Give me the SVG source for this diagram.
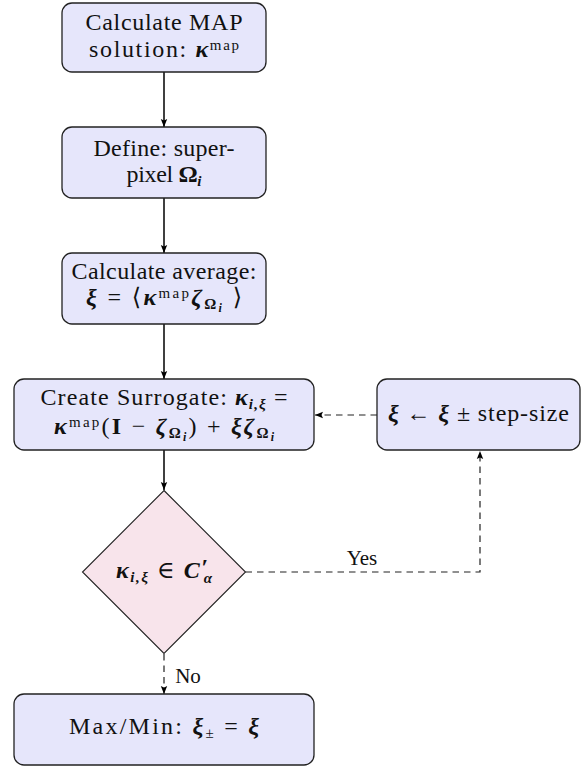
<svg xmlns="http://www.w3.org/2000/svg" width="587" height="767" viewBox="0 0 587 767">
<defs>
<marker id="ah" markerUnits="userSpaceOnUse" markerWidth="9" markerHeight="8" refX="8" refY="4" orient="auto">
<path d="M0,0.8 L8,4 L0,7.2 L1.5,4 Z" fill="#000"/>
</marker>
</defs>
<style>
.box{fill:#E6E6FB;stroke:#222;stroke-width:1.3}
.dia{fill:#F8E4EB;stroke:#222;stroke-width:1.1}
text{font-family:"Liberation Serif","DejaVu Serif",serif;font-size:24px;fill:#111;text-anchor:middle}
.bi{font-weight:bold;font-style:italic}
.b{font-weight:bold}
.s{font-size:15px}
.ss{font-size:12px}
.con{stroke:#000;stroke-width:1.5;fill:none}
.dash{stroke:#222;stroke-width:1.2;fill:none;stroke-dasharray:6.5 5}
</style>
<g id="connectors">
<line class="con" x1="164" y1="72" x2="164" y2="127" marker-end="url(#ah)"/>
<line class="con" x1="164" y1="198" x2="164" y2="253" marker-end="url(#ah)"/>
<line class="con" x1="164" y1="324" x2="164" y2="379" marker-end="url(#ah)"/>
<line class="con" x1="164" y1="450" x2="164" y2="490" marker-end="url(#ah)"/>
<line class="dash" x1="377" y1="415" x2="315" y2="415" marker-end="url(#ah)"/>
<path class="dash" d="M245.5,572 H480 V451" marker-end="url(#ah)"/>
<line class="dash" x1="164" y1="654" x2="164" y2="694" marker-end="url(#ah)"/>
<text x="362" y="565" style="font-size:21px">Yes</text>
<text x="188" y="683" style="font-size:21px">No</text>
</g>
<g id="n1">
<rect class="box" x="62" y="3" width="204" height="69" rx="10"/>
<text x="164" y="30" textLength="157" lengthAdjust="spacing">Calculate MAP</text>
<text x="164" y="57" textLength="150" lengthAdjust="spacing">solution: <tspan class="bi">κ</tspan><tspan class="s" dy="-7">map</tspan></text>
</g>
<g id="n2">
<rect class="box" x="62" y="127" width="204" height="71" rx="10"/>
<text x="164" y="156" textLength="141" lengthAdjust="spacing">Define: super-</text>
<text x="164" y="182" textLength="75" lengthAdjust="spacing">pixel <tspan class="b">Ω</tspan><tspan class="s bi" dy="4">i</tspan></text>
</g>
<g id="n3">
<rect class="box" x="62" y="253" width="204" height="71" rx="10"/>
<text x="164" y="279" textLength="185" lengthAdjust="spacing">Calculate average:</text>
<text x="164" y="305" textLength="156" lengthAdjust="spacing"><tspan class="bi">ξ</tspan> = ⟨<tspan class="bi">κ</tspan><tspan class="s" dy="-7">map</tspan><tspan class="bi" dy="7">ζ</tspan><tspan class="s b" dy="4">Ω</tspan><tspan class="ss bi" dy="3">i</tspan><tspan dy="-7"> ⟩</tspan></text>
</g>
<g id="n4">
<rect class="box" x="14" y="379" width="300" height="71" rx="10"/>
<text x="164" y="405" textLength="247" lengthAdjust="spacing">Create Surrogate: <tspan class="bi">κ</tspan><tspan class="s bi" dy="4">i,ξ</tspan><tspan dy="-4"> =</tspan></text>
<text x="164" y="434" textLength="220" lengthAdjust="spacing"><tspan class="bi">κ</tspan><tspan class="s" dy="-7">map</tspan><tspan dy="7">(</tspan><tspan class="b">I</tspan> − <tspan class="bi">ζ</tspan><tspan class="s b" dy="4">Ω</tspan><tspan class="ss bi" dy="3">i</tspan><tspan dy="-7">) + </tspan><tspan class="bi">ξζ</tspan><tspan class="s b" dy="4">Ω</tspan><tspan class="ss bi" dy="3">i</tspan></text>
</g>
<g id="n5">
<rect class="box" x="377" y="379" width="203" height="71" rx="10"/>
<text x="478.5" y="421" textLength="181" lengthAdjust="spacing"><tspan class="bi">ξ</tspan> ← <tspan class="bi">ξ</tspan> ± step-size</text>
</g>
<g id="n6">
<polygon class="dia" points="164,490.5 245.5,572 164,653.5 82.5,572"/>
<text x="164" y="578" textLength="96" lengthAdjust="spacing"><tspan class="bi">κ</tspan><tspan class="s bi" dy="4">i,ξ</tspan><tspan dy="-4"> ∈ </tspan><tspan class="bi">C</tspan><tspan class="b" dy="-3">′</tspan><tspan class="s bi" dx="-6" dy="8">α</tspan></text>
</g>
<g id="n7">
<rect class="box" x="14" y="694" width="300" height="71" rx="10"/>
<text x="164" y="734" textLength="190" lengthAdjust="spacing">Max/Min: <tspan class="bi">ξ</tspan><tspan class="s" dy="4">±</tspan><tspan dy="-4"> = </tspan><tspan class="bi">ξ</tspan></text>
</g>
</svg>
